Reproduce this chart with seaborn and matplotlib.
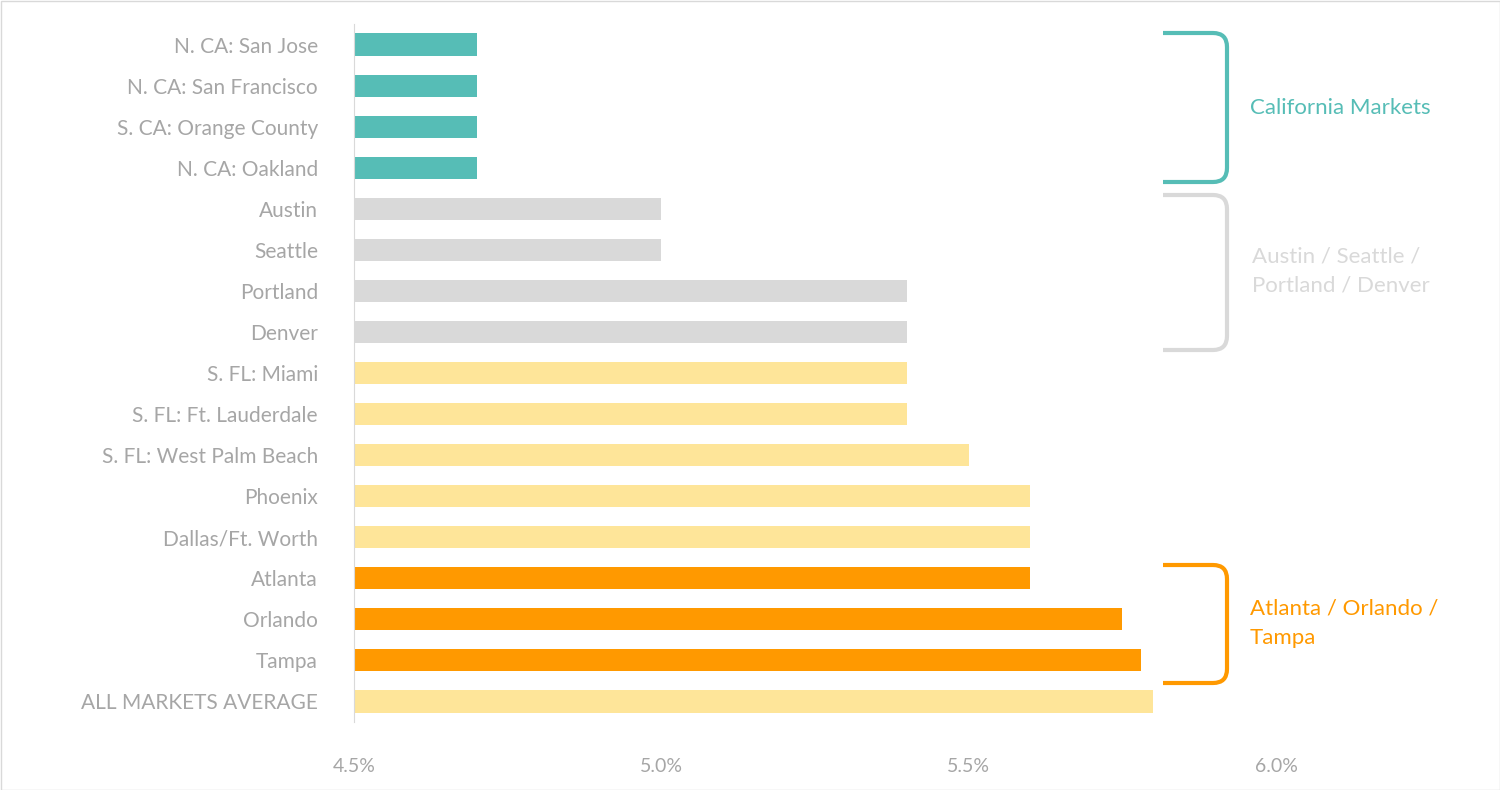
import matplotlib
matplotlib.use("Agg")
import matplotlib.pyplot as plt
import seaborn as sns
import pandas as pd
from matplotlib.patches import FancyBboxPatch, Rectangle
from matplotlib.path import Path
from matplotlib.patches import PathPatch

markets = ["N. CA: San Jose", "N. CA: San Francisco", "S. CA: Orange County", "N. CA: Oakland",
           "Austin", "Seattle", "Portland", "Denver",
           "S. FL: Miami", "S. FL: Ft. Lauderdale", "S. FL: West Palm Beach", "Phoenix",
           "Dallas/Ft. Worth", "Atlanta", "Orlando", "Tampa", "ALL MARKETS AVERAGE"]
values = [4.70, 4.70, 4.70, 4.70, 5.00, 5.00, 5.40, 5.40, 5.40, 5.40, 5.50, 5.60, 5.60,
          5.60, 5.75, 5.78, 5.80]
groups = ["ca"] * 4 + ["asp"] * 4 + ["other"] * 5 + ["ato"] * 3 + ["other"]
tick_labels = ["4.5%", "5.0%", "5.5%", "6.0%"]
ticks = [4.5, 5.0, 5.5, 6.0]

colors = {"ca": "#56BDB6", "asp": "#D9D9D9", "other": "#FEE599", "ato": "#FF9900"}
label_gray = "#A6A6A6"

df = pd.DataFrame({"market": markets, "value": values, "group": groups})

W, H = 1500, 790
fig = plt.figure(figsize=(15, 7.9), dpi=100)
ax = fig.add_axes([354 / W, 1 - 722 / H, (1276 - 354) / W, (722 - 24) / H])
sns.barplot(data=df, y="market", x="value", hue="group", palette=colors, dodge=False,
            width=0.54, legend=False, ax=ax, saturation=1)
ax.set_xlim(4.5, 6.0)
ax.set_ylim(16.5, -0.5)
ax.set_xticks(ticks)
ax.set_xticklabels(tick_labels)
ax.set_xlabel("")
ax.set_ylabel("")
for s in ["top", "right", "bottom"]:
    ax.spines[s].set_visible(False)
ax.spines["left"].set_color("#D9D9D9")
ax.tick_params(axis="both", length=0, colors=label_gray, labelsize=15)
ax.tick_params(axis="y", pad=26)
ax.tick_params(axis="x", pad=26)
for t in ax.get_xticklabels() + ax.get_yticklabels():
    t.set_fontfamily("Lato")
    t.set_color(label_gray)
for t in ax.get_xticklabels():
    t.set_fontsize(14)

def px(x, y):
    return (x / W, 1 - y / H)

def bracket(y0, y1, color):
    x0, x1, r = 1163, 1227, 14
    verts = [px(x0, y0), px(x1 - r, y0), px(x1, y0), px(x1, y0 + r),
             px(x1, y1 - r), px(x1, y1), px(x1 - r, y1), px(x0, y1)]
    codes = [Path.MOVETO, Path.LINETO, Path.CURVE3, Path.CURVE3,
             Path.LINETO, Path.CURVE3, Path.CURVE3, Path.LINETO]
    fig.add_artist(PathPatch(Path(verts, codes), transform=fig.transFigure,
                             fill=False, edgecolor=color, lw=3))

bracket(33, 182, colors["ca"])
bracket(195, 350, colors["asp"])
bracket(565, 683, colors["ato"])

fig.text(*px(1250, 108), "California Markets", color=colors["ca"], fontsize=16,
         family="Lato", va="center")
fig.text(*px(1252, 271), "Austin / Seattle /\nPortland / Denver", color=colors["asp"],
         fontsize=16, family="Lato", va="center", linespacing=1.6)
fig.text(*px(1250, 623), "Atlanta / Orlando /\nTampa", color=colors["ato"],
         fontsize=16, family="Lato", va="center", linespacing=1.6)

fig.add_artist(Rectangle((0.5 / W, 0.5 / H), 1 - 1 / W, 1 - 1 / H, transform=fig.transFigure,
                         fill=False, edgecolor="#D9D9D9", lw=1))
fig.savefig("out.png", dpi=100)
